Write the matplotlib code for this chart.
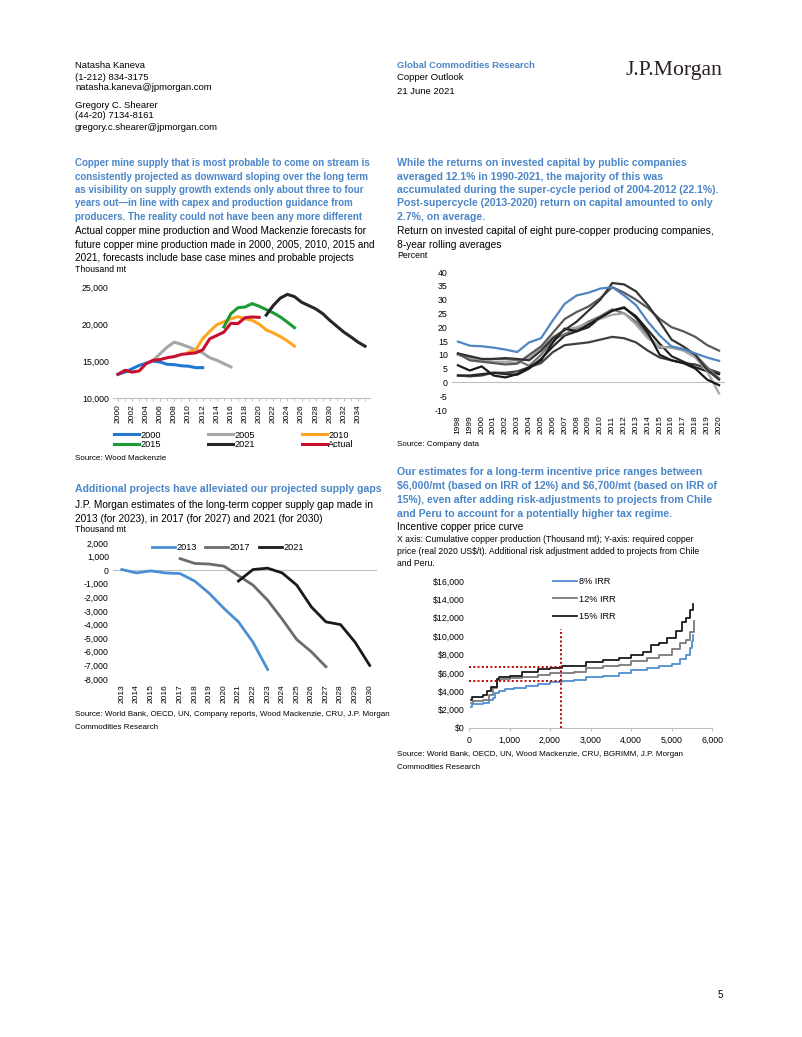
import matplotlib
matplotlib.use("Agg")
import matplotlib.pyplot as plt
from matplotlib.ticker import MultipleLocator, FuncFormatter

plt.rcParams['font.family'] = ['Liberation Sans', 'DejaVu Sans']
plt.rcParams['text.parse_math'] = False
plt.rcParams['axes.unicode_minus'] = False

W, H = 802, 1037
HEAD_BLUE = '#4A86C8'
AXIS_GRAY = '#BFBFBF'

# ---- chart 1: mine production forecasts (thousand mt)
f2000_years = list(range(2000, 2013))
f2000 = [13200, 13500, 13950, 14400, 14700, 15000, 14850, 14550, 14500, 14350, 14300, 14100, 14100]
f2005_years = list(range(2005, 2017))
f2005 = [15100, 16000, 16900, 17550, 17250, 16900, 16500, 16100, 15450, 15100, 14650, 14200]
f2010_years = list(range(2010, 2026))
f2010 = [16200, 16500, 18000, 19000, 19900, 20300, 20700, 21000, 20700, 20500, 20000, 19200, 18800, 18300, 17700, 17000]
f2015_years = list(range(2015, 2026))
f2015 = [19600, 21400, 22200, 22300, 22750, 22400, 21950, 21500, 20950, 20250, 19500]
f2021_years = list(range(2021, 2036))
f2021 = [21200, 22500, 23500, 24000, 23700, 22950, 22500, 22050, 21400, 20500, 19700, 18900, 18250, 17550, 17000]
actual_years = list(range(2000, 2021))
actual = [13200, 13750, 13500, 13650, 14650, 15100, 15200, 15450, 15600, 15900, 16000, 16100, 16500,
          18000, 18450, 18900, 20100, 20050, 20850, 20950, 20900]

# ---- chart 2: ROIC of eight companies (percent)
roic_years = list(range(1998, 2021))
roic_a = [14.8, 13.3, 13.1, 12.6, 11.9, 11.0, 14.5, 16.0, 22.5, 28.5, 31.5, 32.5, 34.0, 34.5, 31.5, 28.0, 22.0, 17.0, 13.0, 12.0, 10.5, 9.0, 7.8]
roic_b = [10.5, 9.5, 8.5, 8.5, 8.8, 8.5, 8.0, 11.5, 16.0, 19.0, 22.0, 26.0, 30.0, 36.0, 35.5, 33.0, 28.0, 22.0, 15.5, 13.0, 10.0, 4.5, 1.0]
roic_c = [10.5, 8.0, 7.5, 7.0, 6.5, 6.8, 10.0, 13.0, 18.0, 23.0, 25.5, 27.5, 30.5, 34.5, 32.5, 30.0, 27.0, 23.0, 20.0, 18.5, 16.5, 13.5, 11.5]
roic_d = [6.2, 4.3, 5.8, 2.5, 1.8, 3.0, 5.5, 8.0, 14.5, 19.5, 18.5, 21.0, 23.5, 26.0, 27.2, 23.5, 18.0, 10.0, 8.0, 7.0, 5.0, 1.0, -1.0]
roic_e = [10.0, 8.5, 8.0, 7.5, 7.5, 7.0, 9.0, 12.5, 16.5, 19.0, 20.0, 21.5, 23.0, 24.5, 25.0, 21.0, 16.0, 13.0, 12.5, 11.5, 9.0, 4.0, -4.0]
roic_f = [2.5, 2.2, 2.5, 3.5, 3.5, 4.0, 5.5, 7.0, 11.0, 13.5, 14.0, 14.5, 15.5, 16.5, 16.0, 14.5, 11.5, 9.0, 8.0, 7.0, 6.5, 5.0, 3.5]
roic_g = [10.0, 9.0, 8.0, 8.5, 8.5, 8.0, 6.0, 10.0, 15.5, 17.5, 19.5, 22.0, 24.0, 26.5, 25.0, 22.0, 17.0, 12.5, 13.0, 12.0, 10.0, 5.5, 1.5]
roic_h = [2.5, 2.5, 3.0, 3.5, 3.0, 2.8, 5.0, 8.5, 13.0, 17.0, 18.5, 20.0, 23.5, 26.0, 27.0, 24.0, 19.0, 14.0, 9.5, 7.5, 5.5, 4.0, 3.0]

# ---- chart 3: projected supply gap (thousand mt)
gap2013_years = list(range(2013, 2024))
gap2013 = [50, -200, -50, -200, -250, -800, -1700, -2800, -3800, -5300, -7300]
gap2017_years = list(range(2017, 2028))
gap2017 = [850, 500, 450, 300, -400, -1100, -2200, -3600, -5100, -6000, -7100]
gap2021_years = list(range(2021, 2031))
gap2021 = [-800, 50, 150, -200, -1100, -2700, -3800, -4000, -5300, -7000]

# ---- chart 4: incentive price curve (cum. production, US$/t)
irr8_x = [50, 80, 350, 500, 600, 650, 750, 900, 1100, 1400, 1700, 2000, 2300, 2600, 2900, 3300, 3700, 4000, 4400, 4700, 5000, 5200, 5350, 5450, 5500, 5530]
irr8_y = [2300, 2600, 2700, 3000, 3300, 3800, 4000, 4200, 4400, 4600, 4800, 5000, 5100, 5200, 5500, 5700, 6000, 6300, 6500, 6800, 7000, 7500, 8000, 8700, 9500, 10100]
irr12_x = [50, 100, 350, 500, 600, 700, 800, 1000, 1300, 1700, 2000, 2300, 2600, 2900, 3300, 3700, 4000, 4400, 4700, 5000, 5200, 5350, 5450, 5550]
irr12_y = [2700, 2900, 3100, 3600, 4300, 5200, 5300, 5400, 5600, 5800, 5950, 6000, 6100, 6500, 6700, 6900, 7300, 7600, 8000, 8600, 9200, 9600, 10500, 11700]
irr15_x = [50, 80, 350, 450, 550, 700, 750, 1000, 1300, 1700, 2000, 2300, 2600, 2900, 3300, 3700, 4000, 4300, 4500, 4700, 4900, 5100, 5250, 5350, 5450, 5530]
irr15_y = [3000, 3400, 3600, 4000, 4500, 5300, 5500, 5700, 6100, 6400, 6550, 6700, 6800, 7200, 7400, 7600, 7900, 8300, 9000, 9300, 9800, 10600, 11500, 12000, 12800, 13500]
marker_x = 2260
marker_y = [6650, 5100]

fig = plt.figure(figsize=(W / 100, H / 100), dpi=100)


def box(l, t, r, b):
    return [l / W, 1 - b / H, (r - l) / W, (b - t) / H]


def txt(x, y, s, size=7, color='black', weight='normal', **kw):
    fig.text(x / W, 1 - y / H, s, fontsize=size, color=color, fontweight=weight, va='center', **kw)


def lines(x, y0, step, rows, **kw):
    for i, s in enumerate(rows):
        txt(x, y0 + i * step, s, **kw)


def clean(ax):
    for s in ['top', 'right', 'left']:
        ax.spines[s].set_visible(False)
    ax.spines['bottom'].set_color(AXIS_GRAY)
    ax.tick_params(axis='y', length=0, labelsize=6.3, pad=3)
    ax.tick_params(axis='x', labelsize=6, colors='black')
    ax.patch.set_alpha(0)


thousands = FuncFormatter(lambda v, p: f'{v:,.0f}')

# ---- page header
lines(75, 66, 11, ['Natasha Kaneva', '(1-212) 834-3175', 'natasha.kaneva@jpmorgan.com'], size=6.8)
lines(75, 105, 11, ['Gregory C. Shearer', '(44-20) 7134-8161', 'gregory.c.shearer@jpmorgan.com'], size=6.8)
txt(397, 66, 'Global Commodities Research', size=6.8, color=HEAD_BLUE, weight='bold')
txt(397, 77, 'Copper Outlook', size=6.8)
txt(397, 92, '21 June 2021', size=6.8)
fig.text(626 / W, 1 - 71 / H, 'J.P.Morgan', fontsize=15.6, color='#2B2020',
         family=['Liberation Serif', 'DejaVu Serif'], va='center')

# ---- chart 1 text
lines(75, 163, 13.5, ['Copper mine supply that is most probable to come on stream is',
                      'consistently projected as downward sloping over the long term',
                      'as visibility on supply growth extends only about three to four',
                      'years out\u2014in line with capex and production guidance from',
                      'producers. The reality could not have been any more different'],
      size=7.0, color=HEAD_BLUE, weight='bold')
lines(75, 231, 13.5, ['Actual copper mine production and Wood Mackenzie forecasts for',
                      'future copper mine production made in 2000, 2005, 2010, 2015 and',
                      '2021, forecasts include base case mines and probable projects'], size=7.2)
txt(75, 269, 'Thousand mt', size=6.3)
txt(75, 458, 'Source: Wood Mackenzie', size=5.8)

ax1 = fig.add_axes(box(113, 287, 370, 398))
clean(ax1)
h_2000, = ax1.plot(f2000_years, f2000, color='#1F78D1', lw=2.2, label='2000')
h_2005, = ax1.plot(f2005_years, f2005, color='#A6A6A6', lw=2.2, label='2005')
h_2010, = ax1.plot(f2010_years, f2010, color='#FFA51F', lw=2.2, label='2010')
h_2015, = ax1.plot(f2015_years, f2015, color='#1E9A33', lw=2.2, label='2015')
h_2021, = ax1.plot(f2021_years, f2021, color='#262626', lw=2.2, label='2021')
h_act, = ax1.plot(actual_years, actual, color='#C8102E', lw=2.2, label='Actual')
ax1.set_xlim(1999.3, 2035.7)
ax1.set_ylim(10000, 25000)
ax1.set_yticks([10000, 15000, 20000, 25000])
ax1.yaxis.set_major_formatter(thousands)
ax1.set_xticks(list(range(2000, 2036, 2)))
ax1.xaxis.set_minor_locator(MultipleLocator(1))
ax1.tick_params(axis='x', which='both', length=2.5, color=AXIS_GRAY, rotation=90, pad=2)
ax1.legend([h_2000, h_2015, h_2005, h_2021, h_2010, h_act],
           ['2000', '2015', '2005', '2021', '2010', 'Actual'],
           ncol=3, loc='upper left', bbox_to_anchor=(114.5 / W, 1 - 430.5 / H),
           bbox_transform=fig.transFigure, frameon=False, fontsize=6.6,
           handlelength=2.7, handletextpad=0.15, columnspacing=5.15,
           labelspacing=0.05, borderpad=0, borderaxespad=0)

# ---- chart 2 text
lines(397, 163, 13.5, ['While the returns on invested capital by public companies',
                       'averaged 12.1% in 1990-2021, the majority of this was',
                       'accumulated during the super-cycle period of 2004-2012 (22.1%).',
                       'Post-supercycle (2013-2020) return on capital amounted to only',
                       '2.7%, on average.'],
      size=7.55, color=HEAD_BLUE, weight='bold')
lines(397, 231, 13.5, ['Return on invested capital of eight pure-copper producing companies,',
                       '8-year rolling averages'], size=7.4)
txt(397, 256, 'Percent', size=6.3)
txt(397, 444, 'Source: Company data', size=5.8)

ax2 = fig.add_axes(box(452, 272, 725, 410))
clean(ax2)
ax2.spines['bottom'].set_visible(False)
ax2.axhline(0, color=AXIS_GRAY, lw=0.8, zorder=0)
roic_series = [(roic_f, '#404040'), (roic_h, '#262626'), (roic_g, '#737373'), (roic_e, '#A6A6A6'),
               (roic_c, '#595959'), (roic_d, '#1A1A1A'), (roic_b, '#333333'), (roic_a, '#4F86C0')]
for vals, col in roic_series:
    ax2.plot(roic_years, vals, color=col, lw=1.6)
ax2.set_xlim(1997.5, 2020.5)
ax2.set_ylim(-10, 40)
ax2.yaxis.set_major_locator(MultipleLocator(5))
ax2.set_xticks(roic_years)
ax2.tick_params(axis='x', length=0, rotation=90, pad=4)

# ---- chart 3 text
txt(75, 489, 'Additional projects have alleviated our projected supply gaps', size=7.6,
    color=HEAD_BLUE, weight='bold')
lines(75, 505, 13.5, ['J.P. Morgan estimates of the long-term copper supply gap made in',
                      '2013 (for 2023), in 2017 (for 2027) and 2021 (for 2030)'], size=7.3)
txt(75, 530, 'Thousand mt', size=6.3)
lines(75, 715, 12.5, ['Source: World Bank, OECD, UN, Company reports, Wood Mackenzie, CRU, J.P. Morgan',
                      'Commodities Research'], size=5.8)

ax3 = fig.add_axes(box(113, 543, 377, 679))
clean(ax3)
ax3.spines['bottom'].set_visible(False)
ax3.axhline(0, color=AXIS_GRAY, lw=0.8, zorder=0)
g13, = ax3.plot(gap2013_years, gap2013, color='#4A8FD6', lw=2.0)
g17, = ax3.plot(gap2017_years, gap2017, color='#6B6B6B', lw=2.0)
g21, = ax3.plot(gap2021_years, gap2021, color='#1A1A1A', lw=2.0)
ax3.set_xlim(2012.4, 2030.5)
ax3.set_ylim(-8000, 2000)
ax3.yaxis.set_major_locator(MultipleLocator(1000))
ax3.yaxis.set_major_formatter(thousands)
ax3.set_xticks(list(range(2013, 2031)))
ax3.tick_params(axis='x', length=0, rotation=90, pad=4)
ax3.legend([g13, g17, g21], ['2013', '2017', '2021'], ncol=3, loc='center left',
           bbox_to_anchor=(152 / W, 1 - 548 / H), bbox_transform=fig.transFigure,
           frameon=False, fontsize=6.6, handlelength=2.5, handletextpad=0.15,
           columnspacing=0.95, borderpad=0, borderaxespad=0)

# ---- chart 4 text
lines(397, 472, 13.9, ['Our estimates for a long-term incentive price ranges between',
                       '$6,000/mt (based on IRR of 12%) and $6,700/mt (based on IRR of',
                       '15%), even after adding risk-adjustments to projects from Chile',
                       'and Peru to account for a potentially higher tax regime.'],
      size=7.6, color=HEAD_BLUE, weight='bold')
txt(397, 527, 'Incentive copper price curve', size=7.3)
lines(397, 540, 11.8, ['X axis: Cumulative copper production (Thousand mt); Y-axis: required copper',
                       'price (real 2020 US$/t). Additional risk adjustment added to projects from Chile',
                       'and Peru.'], size=6.2)
lines(397, 755, 12.5, ['Source: World Bank, OECD, UN, Wood Mackenzie, CRU, BGRIMM, J.P. Morgan',
                       'Commodities Research'], size=5.8)

ax4 = fig.add_axes(box(469, 581, 712, 728))
clean(ax4)
i8, = ax4.plot(irr8_x, irr8_y, color='#4F8FCF', lw=1.3, drawstyle='steps-post')
i12, = ax4.plot(irr12_x, irr12_y, color='#7A7A7A', lw=1.3, drawstyle='steps-post')
i15, = ax4.plot(irr15_x, irr15_y, color='#1A1A1A', lw=1.3, drawstyle='steps-post')
ax4.vlines(marker_x, 0, 10800, color='#C00000', lw=1.4, linestyles=(0, (1, 1.2)))
ax4.hlines(marker_y, 0, marker_x, color='#C00000', lw=1.4, linestyles=(0, (1, 1.2)))
ax4.set_xlim(0, 6000)
ax4.set_ylim(0, 16000)
ax4.yaxis.set_major_locator(MultipleLocator(2000))
ax4.yaxis.set_major_formatter(FuncFormatter(lambda v, p: f'${v:,.0f}'))
ax4.xaxis.set_major_locator(MultipleLocator(1000))
ax4.xaxis.set_major_formatter(thousands)
ax4.tick_params(axis='x', length=2.5, color=AXIS_GRAY, labelsize=6.3, pad=3)
ax4.legend([i8, i12, i15], ['8% IRR', '12% IRR', '15% IRR'], loc='upper left',
           bbox_to_anchor=(553 / W, 1 - 577 / H), bbox_transform=fig.transFigure,
           frameon=False, fontsize=6.6, handlelength=2.6, handletextpad=0.2,
           labelspacing=0.95, borderpad=0, borderaxespad=0)

# ---- page number
txt(718, 995, '5', size=7)

fig.savefig('out.png', dpi=100)
